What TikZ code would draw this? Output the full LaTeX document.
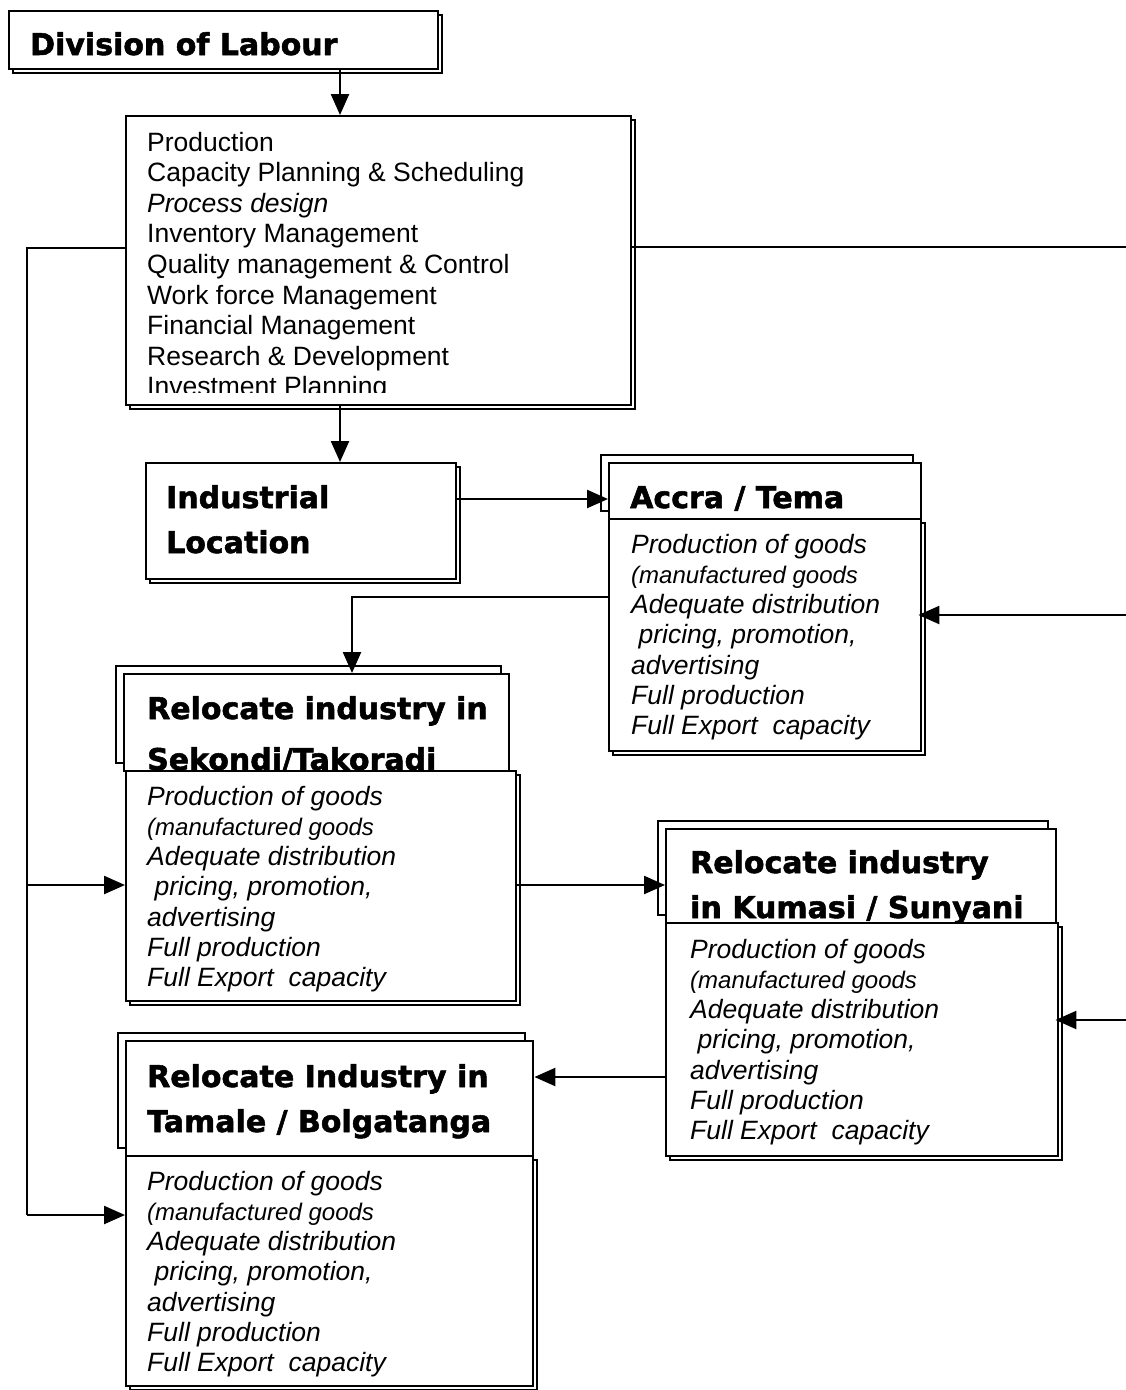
\documentclass[tikz,border=0pt]{standalone}
\usepackage{fontspec}
\setmainfont{Liberation Sans}
\newfontfamily\headfont{DejaVu Sans}[BoldFeatures={FakeBold=1.8}]
\usetikzlibrary{arrows.meta,shadows}

% seven-line list of goods activities, one node per line
\newcommand\goodslist[3]{%
  \foreach \t [count=\i] in {Production of goods,
      {\fontsize{24}{28}\selectfont(manufactured goods},
      Adequate distribution,
      {\ pricing, promotion,},
      advertising,
      Full production,
      {Full Export\ \ capacity}}
    {\node[goods] (#1-\i) at (#2, #3+30.3*\i-30.3) {\t};}%
}

\begin{document}
\begin{tikzpicture}[x=1pt,y=-1pt,
  box/.style={draw, line width=2.4pt, fill=white, inner sep=0pt, anchor=north west},
  shadowdr/.style={copy shadow={shadow xshift=4pt, shadow yshift=-4pt}},
  shadowul/.style={copy shadow={shadow xshift=-8pt, shadow yshift=8pt}},
  head/.style={font=\headfont\bfseries\fontsize{30}{36}\selectfont, anchor=base west, inner sep=0pt},
  plain/.style={font=\fontsize{26.5}{30}\selectfont, anchor=base west, inner sep=0pt},
  goods/.style={font=\itshape\fontsize{26.5}{30}\selectfont, anchor=base west, inner sep=0pt},
  conn/.style={line width=2.4pt},
  arr/.style={conn, -{Triangle[length=21pt,width=18pt]}}]

\useasboundingbox (0,0) rectangle (1126,1390);

% ---------- boxes ----------
\node[box, shadowdr, minimum width=429pt, minimum height=58pt] (div) at (8,10) {};
\node[head] (div-t) at (30,55) {Division of Labour};

\node[box, shadowdr, minimum width=505pt, minimum height=289pt] (prod) at (125,115) {};
\begin{scope}
  \clip (125,115) rectangle (630,392);
  \foreach \t [count=\i] in {Production,
      Capacity Planning \& Scheduling,
      {\itshape Process design},
      Inventory Management,
      Quality management \& Control,
      Work force Management,
      Financial Management,
      Research \& Development,
      Investment Planning}
    {\node[plain] (prod-\i) at (147, 151+30.6*\i-30.6) {\t};}
\end{scope}

\node[box, shadowdr, minimum width=310pt, minimum height=116pt] (ind) at (145,462) {};
\node[head] (ind-t1) at (166,508) {Industrial};
\node[head] (ind-t2) at (166,553) {Location};

% Accra / Tema
\node[box, shadowul, minimum width=312pt, minimum height=56pt] (accH) at (608,462) {};
\node[head] (accH-t) at (630,508) {Accra / Tema};
\node[box, shadowdr, minimum width=312pt, minimum height=232pt] (accB) at (608,518) {};
\goodslist{acc}{631}{553}

% Sekondi / Takoradi
\node[box, shadowul, minimum width=385pt, minimum height=97pt] (sekH) at (123,673) {};
\node[head] (sekH-t1) at (147,719) {Relocate industry in};
\node[head] (sekH-t2) at (147,770) {Sekondi/Takoradi};
\node[box, shadowdr, minimum width=390pt, minimum height=230pt] (sekB) at (125,770) {};
\goodslist{sek}{147}{805}

% Kumasi / Sunyani
\node[box, shadowul, minimum width=390pt, minimum height=94pt] (kumH) at (665,828) {};
\node[head] (kumH-t1) at (690,873) {Relocate industry};
\node[head] (kumH-t2) at (690,918) {in Kumasi / Sunyani};
\node[box, shadowdr, minimum width=392pt, minimum height=233pt] (kumB) at (665,922) {};
\goodslist{kum}{690}{958}

% Tamale / Bolgatanga
\node[box, shadowul, minimum width=407pt, minimum height=115pt] (tamH) at (125,1040) {};
\node[head] (tamH-t1) at (147,1087) {Relocate Industry in};
\node[head] (tamH-t2) at (147,1132) {Tamale / Bolgatanga};
\node[box, shadowdr, minimum width=407pt, minimum height=230pt] (tamB) at (125,1155) {};
\goodslist{tam}{147}{1190}

% ---------- connector routing points ----------
\coordinate (ax) at (340,0);
\coordinate (iy) at (0,499);
\coordinate (lbus-top) at (27,248);
\coordinate (lbus-mid) at (27,885);
\coordinate (lbus-bot) at (27,1215);
\coordinate (rbus-top) at (1134,247);
\coordinate (rbus-acc) at (1134,615);
\coordinate (rbus-kum) at (1134,1020);
\coordinate (drop) at (352,597);
\coordinate (sky) at (0,885);
\coordinate (kty) at (0,1077);

% ---------- connectors ----------
\draw[arr] (div.south -| ax) -- (prod.north -| ax);
\draw[arr] (prod.south -| ax) -- (ind.north -| ax);
\draw[arr] (ind.east |- iy) -- (accH.west |- iy);

\draw[conn] (prod.west |- lbus-top) -- (lbus-top) -- (lbus-bot);
\draw[arr] (lbus-mid) -- (sekB.west |- lbus-mid);
\draw[arr] (lbus-bot) -- (tamB.west |- lbus-bot);

\draw[conn] (prod.east |- rbus-top) -- (rbus-top) -- (rbus-kum);
\draw[arr, shorten >=-4pt] (rbus-acc) -- (accB.east |- rbus-acc);
\draw[arr, shorten >=-4pt] (rbus-kum) -- (kumB.east |- rbus-kum);

\draw[arr] (accB.west |- drop) -- (drop) -- (sekH.north -| drop);
\draw[arr] (sekB.east |- sky) -- (kumH.west |- sky);
\draw[arr] (kumB.west |- kty) -- (tamH.east |- kty);
\end{tikzpicture}
\end{document}
